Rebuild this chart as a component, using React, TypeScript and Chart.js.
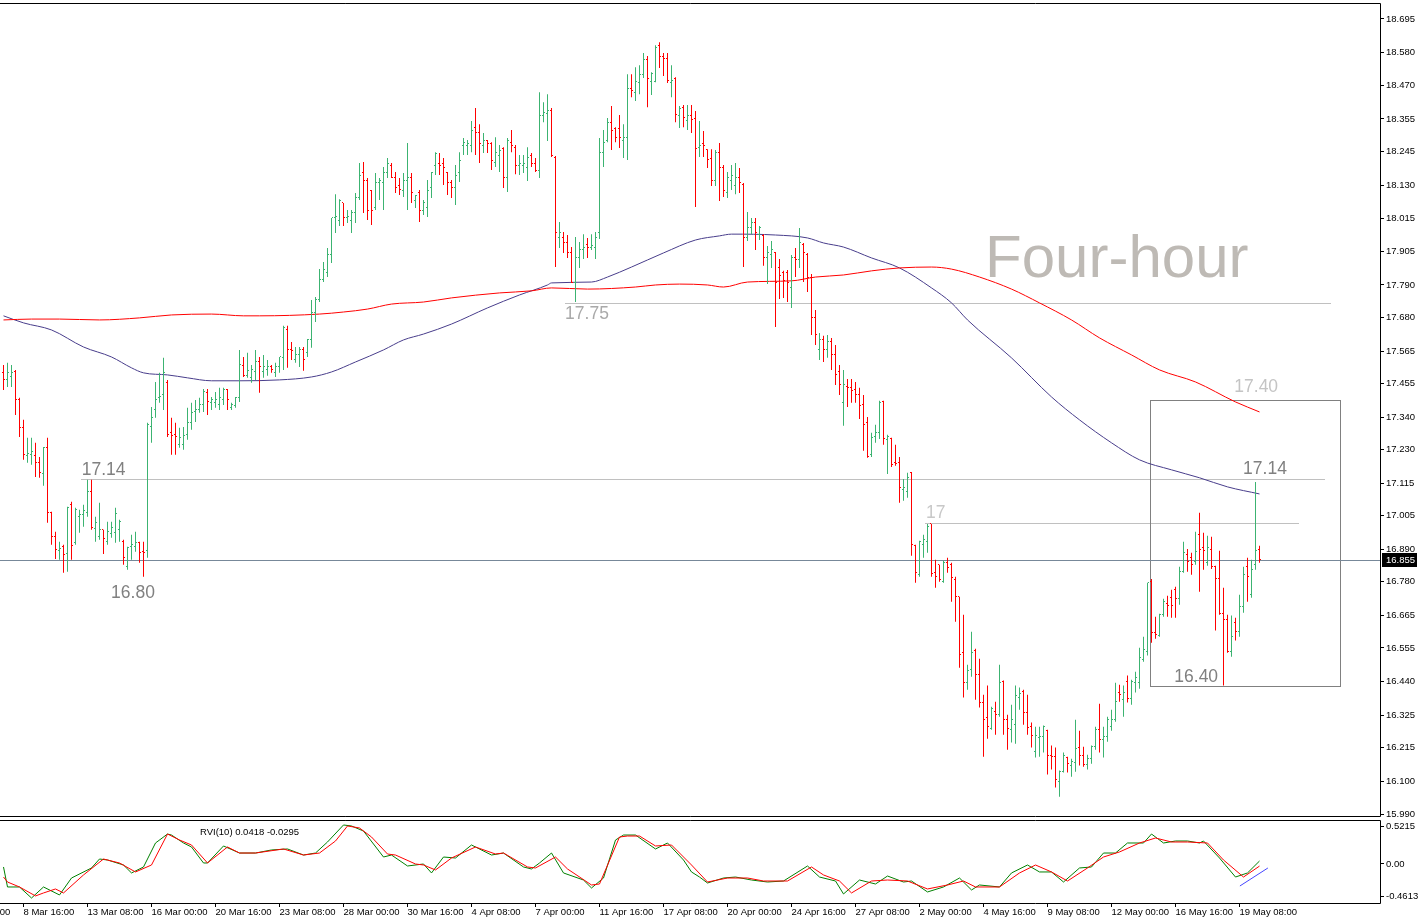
import React, { useEffect, useRef } from 'react';
import { Chart, registerables } from 'chart.js';

Chart.register(...registerables);

// ---------- price bars: [open, high, low, close] per 4-hour bar ----------
const ohlc: number[][] = [
  [17.491,17.518,17.433,17.470],[17.467,17.525,17.443,17.491],[17.477,17.518,17.443,17.491],[17.494,17.501,17.348,17.399],[17.399,17.406,17.273,17.304],
  [17.304,17.331,17.195,17.212],[17.209,17.270,17.185,17.215],[17.212,17.270,17.178,17.222],[17.209,17.253,17.137,17.185],[17.185,17.205,17.134,17.151],
  [17.147,17.239,17.107,17.236],[17.236,17.270,16.981,17.015],[17.015,17.018,16.906,16.933],[16.933,16.950,16.858,16.889],[16.886,16.916,16.855,16.892],
  [16.899,16.906,16.811,16.872],[16.875,17.035,16.814,17.032],[17.042,17.052,16.855,16.903],[16.913,17.032,16.906,17.025],[17.001,17.025,16.947,17.008],
  [17.008,17.042,16.967,17.022],[17.015,17.127,17.001,17.086],[17.086,17.127,16.957,16.964],[16.960,17.001,16.916,16.981],[16.933,17.049,16.923,16.957],
  [16.957,16.957,16.875,16.926],[16.916,16.984,16.906,16.950],[16.943,16.984,16.930,16.964],[16.947,17.032,16.913,17.011],[16.957,16.991,16.916,16.984],
  [16.916,16.923,16.838,16.862],[16.831,16.899,16.821,16.896],[16.899,16.940,16.855,16.906],[16.899,16.950,16.882,16.913],[16.913,16.916,16.845,16.879],
  [16.882,16.916,16.797,16.879],[16.886,17.321,16.862,17.314],[17.307,17.375,17.253,17.338],[17.365,17.460,17.338,17.399],[17.406,17.491,17.389,17.409],
  [17.416,17.542,17.365,17.491],[17.457,17.467,17.273,17.280],[17.287,17.338,17.212,17.277],[17.280,17.321,17.212,17.273],[17.246,17.304,17.236,17.270],
  [17.246,17.307,17.229,17.277],[17.280,17.372,17.263,17.321],[17.321,17.389,17.297,17.355],[17.358,17.399,17.324,17.365],[17.365,17.406,17.355,17.385],
  [17.382,17.436,17.358,17.426],[17.423,17.436,17.348,17.392],[17.389,17.409,17.365,17.399],[17.389,17.426,17.372,17.399],[17.382,17.440,17.365,17.406],
  [17.399,17.440,17.382,17.433],[17.433,17.436,17.365,17.399],[17.372,17.389,17.365,17.382],[17.379,17.409,17.372,17.406],[17.406,17.569,17.392,17.518],
  [17.515,17.545,17.477,17.481],[17.481,17.559,17.474,17.498],[17.474,17.518,17.457,17.501],[17.494,17.569,17.467,17.528],[17.528,17.545,17.423,17.511],
  [17.494,17.552,17.474,17.511],[17.501,17.535,17.481,17.511],[17.511,17.518,17.491,17.501],[17.491,17.525,17.477,17.511],[17.511,17.545,17.491,17.545],
  [17.542,17.651,17.501,17.644],[17.640,17.651,17.508,17.569],[17.569,17.596,17.535,17.566],[17.535,17.579,17.525,17.555],[17.552,17.579,17.511,17.572],
  [17.569,17.579,17.498,17.538],[17.559,17.606,17.545,17.603],[17.603,17.739,17.576,17.695],[17.695,17.749,17.664,17.739],[17.739,17.844,17.732,17.807],
  [17.807,17.868,17.800,17.841],[17.834,17.916,17.817,17.892],[17.892,18.018,17.865,18.018],[18.018,18.099,17.967,18.024],[18.011,18.082,17.991,18.076],
  [18.069,18.069,17.991,18.018],[18.018,18.045,18.001,18.024],[18.011,18.045,17.967,18.035],[18.035,18.103,18.001,18.086],[18.086,18.205,18.079,18.164],
  [18.171,18.208,18.035,18.144],[18.147,18.154,18.011,18.045],[18.113,18.113,17.994,18.045],[18.052,18.171,18.045,18.137],[18.137,18.154,18.079,18.147],
  [18.140,18.191,18.045,18.174],[18.174,18.222,18.154,18.205],[18.198,18.205,18.154,18.157],[18.157,18.174,18.103,18.123],[18.130,18.154,18.096,18.116],
  [18.113,18.171,18.089,18.147],[18.147,18.273,18.045,18.157],[18.154,18.171,18.069,18.103],[18.079,18.096,18.052,18.093],[18.103,18.113,18.004,18.045],
  [18.045,18.079,18.028,18.069],[18.055,18.147,18.021,18.113],[18.120,18.174,18.086,18.174],[18.198,18.242,18.164,18.239],[18.205,18.239,18.164,18.198],
  [18.205,18.222,18.130,18.188],[18.171,18.174,18.096,18.137],[18.137,18.147,18.086,18.120],[18.120,18.198,18.062,18.164],[18.171,18.242,18.140,18.215],
  [18.266,18.290,18.232,18.276],[18.266,18.283,18.232,18.273],[18.266,18.348,18.242,18.317],[18.327,18.392,18.232,18.310],[18.310,18.337,18.205,18.273],
  [18.266,18.307,18.239,18.283],[18.283,18.283,18.239,18.273],[18.273,18.276,18.181,18.212],[18.208,18.293,18.191,18.242],[18.232,18.266,18.174,18.249],
  [18.256,18.259,18.120,18.154],[18.154,18.290,18.106,18.280],[18.276,18.317,18.242,18.266],[18.259,18.266,18.167,18.195],[18.195,18.232,18.164,18.205],
  [18.198,18.232,18.171,18.205],[18.188,18.259,18.144,18.225],[18.232,18.239,18.191,18.205],[18.205,18.222,18.174,18.181],[18.181,18.446,18.154,18.368],
  [18.368,18.412,18.344,18.378],[18.375,18.439,18.280,18.385],[18.385,18.392,18.225,18.229],[18.225,18.229,17.851,17.970],[17.950,18.004,17.916,17.970],
  [17.953,17.970,17.899,17.933],[17.933,17.960,17.882,17.899],[17.902,17.919,17.797,17.800],[17.797,17.953,17.732,17.882],[17.882,17.936,17.848,17.909],
  [17.909,17.963,17.878,17.919],[17.929,17.950,17.882,17.916],[17.916,17.963,17.909,17.923],[17.919,17.970,17.878,17.950],[17.970,18.290,17.946,18.242],
  [18.242,18.317,18.191,18.276],[18.280,18.358,18.276,18.344],[18.344,18.399,18.249,18.317],[18.324,18.327,18.276,18.293],[18.324,18.368,18.256,18.293],
  [18.283,18.337,18.222,18.293],[18.293,18.507,18.215,18.460],[18.460,18.507,18.429,18.453],[18.446,18.531,18.416,18.484],[18.480,18.538,18.439,18.507],
  [18.507,18.579,18.494,18.558],[18.558,18.569,18.395,18.494],[18.484,18.514,18.436,18.511],[18.484,18.606,18.480,18.599],[18.606,18.616,18.528,18.569],
  [18.569,18.579,18.501,18.562],[18.562,18.579,18.477,18.487],[18.480,18.538,18.429,18.487],[18.494,18.497,18.344,18.371],[18.368,18.399,18.324,18.392],
  [18.395,18.402,18.327,18.361],[18.351,18.402,18.317,18.368],[18.368,18.402,18.307,18.354],[18.358,18.382,18.055,18.256],[18.259,18.348,18.225,18.266],
  [18.273,18.314,18.225,18.263],[18.252,18.252,18.188,18.218],[18.222,18.252,18.127,18.144],[18.144,18.249,18.127,18.242],[18.242,18.273,18.076,18.188],
  [18.191,18.198,18.089,18.110],[18.103,18.174,18.086,18.154],[18.147,18.198,18.113,18.161],[18.130,18.205,18.099,18.154],[18.154,18.188,18.103,18.137],
  [18.133,18.137,17.851,17.953],[17.953,18.038,17.940,17.987],[17.984,18.018,17.963,18.001],[18.001,18.018,17.909,17.967],[17.963,17.991,17.943,17.984],
  [17.960,17.963,17.855,17.882],[17.882,17.923,17.793,17.902],[17.892,17.940,17.848,17.909],[17.899,17.902,17.647,17.800],[17.848,17.878,17.742,17.821],
  [17.831,17.838,17.746,17.804],[17.834,17.841,17.732,17.800],[17.783,17.892,17.712,17.885],[17.885,17.916,17.817,17.875],[17.875,17.984,17.848,17.933],
  [17.929,17.933,17.800,17.899],[17.892,17.899,17.766,17.814],[17.814,17.827,17.620,17.678],[17.678,17.705,17.586,17.620],[17.569,17.627,17.535,17.603],
  [17.603,17.617,17.528,17.569],[17.569,17.620,17.542,17.596],[17.596,17.610,17.501,17.552],[17.552,17.586,17.450,17.484],[17.494,17.518,17.416,17.450],
  [17.389,17.501,17.311,17.450],[17.443,17.470,17.375,17.440],[17.440,17.470,17.389,17.430],[17.433,17.460,17.389,17.416],[17.416,17.440,17.334,17.379],
  [17.382,17.416,17.226,17.314],[17.321,17.341,17.202,17.205],[17.212,17.287,17.205,17.270],[17.273,17.314,17.253,17.287],[17.287,17.396,17.266,17.389],
  [17.392,17.396,17.246,17.266],[17.263,17.280,17.147,17.273],[17.266,17.270,17.171,17.178],[17.185,17.246,17.175,17.181],[17.185,17.205,17.049,17.100],
  [17.093,17.130,17.056,17.100],[17.086,17.151,17.066,17.134],[17.151,17.154,16.869,16.906],[16.903,16.906,16.777,16.811],[16.804,16.920,16.797,16.916],
  [16.906,16.940,16.862,16.923],[16.916,16.977,16.879,16.967],[16.977,16.977,16.797,16.807],[16.811,16.855,16.760,16.797],[16.838,16.838,16.780,16.787],
  [16.780,16.852,16.777,16.845],[16.845,16.862,16.811,16.828],[16.838,16.845,16.712,16.794],[16.787,16.797,16.644,16.729],[16.729,16.729,16.488,16.532],
  [16.539,16.668,16.386,16.437],[16.437,16.498,16.413,16.478],[16.481,16.610,16.457,16.539],[16.545,16.552,16.379,16.464],[16.464,16.518,16.352,16.369],
  [16.369,16.396,16.185,16.311],[16.318,16.427,16.246,16.287],[16.280,16.355,16.277,16.348],[16.338,16.372,16.260,16.328],[16.328,16.498,16.321,16.437],
  [16.440,16.444,16.260,16.311],[16.311,16.328,16.209,16.280],[16.277,16.362,16.233,16.311],[16.294,16.427,16.229,16.393],[16.386,16.420,16.345,16.400],
  [16.406,16.413,16.294,16.335],[16.335,16.396,16.260,16.284],[16.287,16.301,16.216,16.257],[16.202,16.287,16.182,16.257],[16.250,16.287,16.185,16.253],
  [16.253,16.291,16.199,16.287],[16.273,16.277,16.124,16.189],[16.189,16.223,16.141,16.185],[16.185,16.216,16.080,16.107],[16.100,16.138,16.049,16.134],
  [16.134,16.199,16.131,16.189],[16.182,16.185,16.131,16.161],[16.155,16.178,16.117,16.168],[16.165,16.311,16.134,16.212],[16.216,16.273,16.155,16.189],
  [16.189,16.219,16.151,16.158],[16.158,16.192,16.141,16.178],[16.178,16.223,16.161,16.219],[16.219,16.287,16.209,16.277],[16.277,16.365,16.199,16.243],
  [16.243,16.287,16.182,16.253],[16.253,16.321,16.236,16.311],[16.287,16.345,16.273,16.311],[16.311,16.437,16.304,16.372],[16.403,16.430,16.372,16.396],
  [16.379,16.427,16.321,16.403],[16.440,16.461,16.369,16.382],[16.382,16.447,16.362,16.440],[16.437,16.474,16.403,16.454],[16.437,16.556,16.416,16.522],
  [16.515,16.593,16.508,16.549],[16.542,16.777,16.529,16.777],[16.780,16.790,16.573,16.607],[16.607,16.661,16.586,16.600],[16.597,16.671,16.593,16.668],
  [16.668,16.722,16.661,16.712],[16.705,16.733,16.661,16.699],[16.726,16.753,16.658,16.699],[16.753,16.763,16.658,16.722],[16.722,16.831,16.702,16.814],
  [16.814,16.916,16.811,16.879],[16.872,16.892,16.814,16.848],[16.862,16.879,16.804,16.838],[16.848,16.950,16.838,16.882],[16.940,17.015,16.746,16.889],
  [16.896,16.947,16.821,16.886],[16.845,16.937,16.835,16.896],[16.889,16.933,16.824,16.831],[16.831,16.835,16.614,16.790],[16.790,16.886,16.668,16.671],
  [16.671,16.760,16.427,16.651],[16.651,16.668,16.539,16.542],[16.542,16.665,16.525,16.593],[16.641,16.658,16.580,16.610],[16.610,16.736,16.593,16.695],
  [16.695,16.831,16.675,16.804],[16.831,16.862,16.712,16.797],[16.736,16.855,16.726,16.821],[16.838,17.120,16.821,16.886],[16.889,16.903,16.845,16.855],
];

// ---------- price axis ----------
const priceTicks = [18.695,18.580,18.470,18.355,18.245,18.130,18.015,17.905,17.790,17.680,17.565,17.455,17.340,17.230,17.115,17.005,16.890,16.780,16.665,16.555,16.440,16.325,16.215,16.100,15.990];
const priceMin = 15.9832;
const priceMax = 18.7494;
const lastPrice = 16.855;

// ---------- moving averages (bar index, value) ----------
const maBlueIdx = [0,5,12,20,27,32,35,41,46,52,59,69,77,82,88,95,100,105,112,121,129,136,137,147,151,157,165,173,179,182,193,201,205,210,217,224,232,237,241,252,262,269,277,284,292,299,306,314];
const maBlueVal = [17.685,17.661,17.637,17.579,17.545,17.508,17.491,17.484,17.474,17.464,17.464,17.467,17.477,17.494,17.528,17.569,17.603,17.623,17.657,17.712,17.756,17.790,17.797,17.800,17.817,17.851,17.899,17.943,17.957,17.963,17.960,17.950,17.933,17.919,17.882,17.848,17.780,17.729,17.671,17.542,17.409,17.331,17.253,17.195,17.161,17.134,17.103,17.079];
const maRedIdx = [0,7,14,24,34,42,52,60,64,79,85,91,97,105,112,124,132,137,146,158,163,169,176,180,186,197,203,210,217,224,232,237,244,252,259,267,274,282,289,298,308,314];
const maRedVal = [17.671,17.674,17.674,17.671,17.678,17.688,17.691,17.685,17.685,17.691,17.698,17.708,17.725,17.732,17.746,17.763,17.770,17.780,17.776,17.783,17.790,17.793,17.790,17.783,17.800,17.804,17.817,17.824,17.838,17.848,17.851,17.844,17.817,17.776,17.729,17.671,17.610,17.552,17.501,17.460,17.392,17.358];

// ---------- drawn objects (bar index / price anchors) ----------
const levelPrice = [17.130, 16.980, 17.729];
const levelFrom = [19.4, 230.4, 140.4];
const levelTo = [330.4, 323.9, 331.9];
const boxBars = [286.6, 334.2];
const boxPrices = [17.399, 16.426];
const noteText = ['17.14', '16.80', '17.75', '17', '17.40', '17.14', '16.40'];
const noteBar = [19.55, 26.9, 140.4, 230.6, 307.7, 309.9, 292.7];
const notePrice = [17.143, 16.725, 17.674, 16.997, 17.426, 17.147, 16.439];
const noteColor = ['#808080', '#808080', '#A9A9A9', '#C8C8C8', '#C4C4C4', '#808080', '#808080'];
const titleText = 'Four-hour';
const titleBar = 245.4;
const titlePrice = 17.817;

// ---------- RVI(10) ----------
const rviMainIdx = [0,1,4,7,10,14,17,22,24,26,30,32,35,38,41,42,45,47,50,51,55,59,63,67,71,75,78,81,85,87,90,95,97,101,105,107,110,113,117,122,125,130,132,134,137,140,145,147,150,153,155,158,163,166,170,172,174,176,180,183,187,191,195,201,204,208,210,214,218,221,225,227,231,235,239,242,244,249,252,256,259,262,265,269,272,275,278,281,285,287,290,293,296,299,300,304,308,311,314];
const rviMainVal = [-0.042,-0.323,-0.323,-0.478,-0.323,-0.435,-0.197,-0.056,0.070,0.056,-0.014,-0.126,-0.042,0.295,0.421,0.407,0.295,0.239,0.014,0.014,0.253,0.154,0.154,0.197,0.211,0.126,0.154,0.309,0.548,0.534,0.463,0.098,0.126,-0.028,0,-0.126,0.098,0.084,0.267,0.126,0.154,-0.042,-0.070,0.014,0.154,-0.126,-0.225,-0.337,-0.197,0.337,0.407,0.407,0.211,0.295,0.056,-0.112,-0.183,-0.267,-0.197,-0.183,-0.225,-0.253,-0.239,-0.028,-0.183,-0.239,-0.421,-0.225,-0.281,-0.169,-0.253,-0.239,-0.393,-0.323,-0.197,-0.365,-0.295,-0.323,-0.126,-0.014,-0.112,-0.112,-0.253,-0.056,-0.042,0.154,0.154,0.295,0.295,0.421,0.295,0.323,0.323,0.295,0.323,0.084,-0.183,-0.126,0.0418];
const rviSignalIdx = [0,1,4,8,10,13,15,20,25,29,33,37,41,44,47,51,56,59,63,70,75,79,83,86,89,92,96,98,103,105,108,112,118,123,125,131,133,138,141,147,149,154,156,159,163,167,172,176,181,186,190,196,202,205,209,212,217,221,226,231,236,240,243,249,254,258,262,266,271,275,279,284,288,292,296,301,305,310,314];
const rviSignalVal = [-0.183,-0.253,-0.323,-0.449,-0.407,-0.351,-0.407,-0.154,0.070,0.014,-0.112,-0.014,0.421,0.337,0.267,0.014,0.239,0.154,0.154,0.211,0.126,0.154,0.323,0.534,0.506,0.379,0.140,0.126,0,-0.014,-0.084,0.084,0.239,0.140,0.154,-0.042,-0.056,0.098,-0.070,-0.295,-0.281,0.379,0.393,0.393,0.253,0.267,-0.014,-0.253,-0.197,-0.197,-0.239,-0.239,-0.042,-0.154,-0.239,-0.407,-0.239,-0.225,-0.239,-0.351,-0.295,-0.239,-0.323,-0.323,-0.126,-0.014,-0.112,-0.239,-0.056,0.098,0.169,0.295,0.365,0.309,0.309,0.295,0.056,-0.183,-0.0295];
const rviTrendIdx = [309.1, 316.1];
const rviTrendVal = [-0.309, -0.056];
const rviTicks = [0.5215, 0, -0.4613];
const rviTickLabels = ['0.5215', '0.00', '-0.4613'];
const rviCaption = 'RVI(10) 0.0418 -0.0295';

// ---------- time axis ----------
const timeIdx = [-11,5,21,37,53,69,85,101,117,133,149,165,181,197,213,229,245,261,277,293,309];
const timeLabels = ['6 Mar 00:00','8 Mar 16:00','13 Mar 08:00','16 Mar 00:00','20 Mar 16:00','23 Mar 08:00','28 Mar 00:00','30 Mar 16:00','4 Apr 08:00','7 Apr 00:00','11 Apr 16:00','17 Apr 08:00','20 Apr 00:00','24 Apr 16:00','27 Apr 08:00','2 May 00:00','4 May 16:00','9 May 08:00','12 May 00:00','16 May 16:00','19 May 08:00'];

// ---------- styles ----------
const X_MIN = -0.875;
const X_MAX = 344.125;
const UP = '#3CB371';
const DOWN = '#FF0000';
const FONT = '"Liberation Sans", Arial, sans-serif';
const W = 1420;
const MAIN_H = 824;
const RVI_TOP = 818;
const RVI_H = 106;

Chart.defaults.font.family = FONT;

const isUp = (b: number[]) => b[3] >= b[0];

const mainDecor = {
  id: 'mainDecor',
  beforeDatasetsDraw(chart: any) {
    const { ctx, chartArea: a, scales } = chart;
    const x = scales.x, y = scales.y;
    ctx.save();
    ctx.beginPath();
    ctx.rect(a.left, a.top, a.right - a.left, a.bottom - a.top);
    ctx.clip();
    // title
    ctx.font = `60px ${FONT}`;
    ctx.fillStyle = '#BEBAB5';
    ctx.textAlign = 'left';
    ctx.textBaseline = 'alphabetic';
    ctx.fillText(titleText, x.getPixelForValue(titleBar), y.getPixelForValue(titlePrice));
    // level lines
    ctx.lineWidth = 1;
    ctx.strokeStyle = '#C0C0C0';
    levelPrice.forEach((p, k) => {
      const yy = Math.round(y.getPixelForValue(p)) + 0.5;
      ctx.beginPath();
      ctx.moveTo(Math.round(x.getPixelForValue(levelFrom[k])), yy);
      ctx.lineTo(Math.round(x.getPixelForValue(levelTo[k])), yy);
      ctx.stroke();
    });
    // rectangle
    ctx.strokeStyle = '#808080';
    const bx0 = Math.round(x.getPixelForValue(boxBars[0])) + 0.5;
    const bx1 = Math.round(x.getPixelForValue(boxBars[1])) + 0.5;
    const by0 = Math.round(y.getPixelForValue(boxPrices[0])) + 0.5;
    const by1 = Math.round(y.getPixelForValue(boxPrices[1])) + 0.5;
    ctx.strokeRect(bx0, by0, bx1 - bx0, by1 - by0);
    // notes
    ctx.font = `17.5px ${FONT}`;
    noteText.forEach((t, k) => {
      ctx.fillStyle = noteColor[k];
      ctx.fillText(t, x.getPixelForValue(noteBar[k]), y.getPixelForValue(notePrice[k]));
    });
    // bid line
    ctx.strokeStyle = '#778899';
    const ly = Math.round(y.getPixelForValue(lastPrice)) + 0.5;
    ctx.beginPath();
    ctx.moveTo(a.left, ly);
    ctx.lineTo(a.right, ly);
    ctx.stroke();
    ctx.restore();
  },
  afterDatasetsDraw(chart: any) {
    const { ctx, chartArea: a, scales } = chart;
    const x = scales.x, y = scales.y;
    ctx.save();
    ctx.beginPath();
    ctx.rect(a.left, a.top, a.right - a.left, a.bottom - a.top);
    ctx.clip();
    ohlc.forEach((b, i) => {
      const px = Math.floor(x.getPixelForValue(i));
      ctx.fillStyle = isUp(b) ? UP : DOWN;
      ctx.fillRect(px - 1, Math.floor(y.getPixelForValue(b[0])), 1, 1);
      ctx.fillRect(px + 1, Math.floor(y.getPixelForValue(b[3])), 1, 1);
    });
    ctx.restore();
  },
  afterDraw(chart: any) {
    const { ctx, chartArea: a, scales } = chart;
    const y = scales.y;
    ctx.save();
    ctx.strokeStyle = '#000';
    ctx.lineWidth = 1;
    ctx.beginPath();
    ctx.moveTo(0, a.top + 0.5);
    ctx.lineTo(a.right + 0.5, a.top + 0.5);
    ctx.lineTo(a.right + 0.5, a.bottom + 0.5);
    ctx.lineTo(0, a.bottom + 0.5);
    ctx.stroke();
    // last price tag
    const yc = y.getPixelForValue(lastPrice);
    ctx.fillStyle = '#000';
    ctx.fillRect(a.right + 2, Math.round(yc) - 7, 35, 14);
    ctx.fillStyle = '#fff';
    ctx.font = `9.5px ${FONT}`;
    ctx.textAlign = 'left';
    ctx.textBaseline = 'middle';
    ctx.fillText(lastPrice.toFixed(3), a.right + 6, Math.round(yc));
    ctx.restore();
  },
};

const rviDecor = {
  id: 'rviDecor',
  afterDraw(chart: any) {
    const { ctx, chartArea: a } = chart;
    ctx.save();
    ctx.strokeStyle = '#000';
    ctx.lineWidth = 1;
    ctx.beginPath();
    ctx.moveTo(0, a.top + 0.5);
    ctx.lineTo(a.right + 0.5, a.top + 0.5);
    ctx.lineTo(a.right + 0.5, a.bottom + 0.5);
    ctx.lineTo(0, a.bottom + 0.5);
    ctx.stroke();
    ctx.fillStyle = '#000';
    ctx.font = `9.5px ${FONT}`;
    ctx.textAlign = 'left';
    ctx.textBaseline = 'middle';
    ctx.fillText(rviCaption, a.left + 200, a.top + 12);
    ctx.restore();
  },
};

const axisGrid = { display: true, drawOnChartArea: false, drawTicks: true, tickLength: 4, color: '#000', offset: false };

export default function App() {
  const mainRef = useRef<HTMLCanvasElement>(null);
  const rviRef = useRef<HTMLCanvasElement>(null);

  useEffect(() => {
    const main = new Chart(mainRef.current as HTMLCanvasElement, {
      type: 'bar',
      data: {
        datasets: [
          {
            type: 'bar',
            data: ohlc.map((b, i) => ({ x: i, y: [b[2], b[1]] })) as any,
            backgroundColor: ohlc.map((b) => (isUp(b) ? UP : DOWN)),
            barThickness: 1,
            borderWidth: 0,
            inflateAmount: 0,
            grouped: false,
            order: 0,
          } as any,
          {
            type: 'line',
            data: maRedIdx.map((v, k) => ({ x: v, y: maRedVal[k] })),
            borderColor: '#FF0000',
            borderWidth: 1,
            pointRadius: 0,
            fill: false,
            cubicInterpolationMode: 'monotone',
            order: 1,
          } as any,
          {
            type: 'line',
            data: maBlueIdx.map((v, k) => ({ x: v, y: maBlueVal[k] })),
            borderColor: '#483D8B',
            borderWidth: 1,
            pointRadius: 0,
            fill: false,
            cubicInterpolationMode: 'monotone',
            order: 1,
          } as any,
        ],
      },
      options: {
        responsive: false,
        animation: false,
        events: [],
        layout: { padding: { top: 3, bottom: MAIN_H - 816, left: 0, right: 0 } },
        plugins: { legend: { display: false }, tooltip: { enabled: false } },
        scales: {
          x: { type: 'linear', display: false, min: X_MIN, max: X_MAX, offset: false },
          y: {
            type: 'linear',
            position: 'right',
            min: priceMin,
            max: priceMax,
            afterBuildTicks: (s: any) => { s.ticks = priceTicks.map((v) => ({ value: v })); },
            afterFit: (s: any) => { s.width = W - 1380; s.paddingTop = 0; s.paddingBottom = 0; },
            grid: axisGrid,
            border: { display: false },
            ticks: {
              autoSkip: false,
              padding: 2,
              color: '#000',
              font: { size: 9.5 },
              callback: (v: any) => Number(v).toFixed(3),
            },
          },
        },
      } as any,
      plugins: [mainDecor],
    });

    const rvi = new Chart(rviRef.current as HTMLCanvasElement, {
      type: 'line',
      data: {
        datasets: [
          {
            data: rviSignalIdx.map((v, k) => ({ x: v, y: rviSignalVal[k] })),
            borderColor: '#FF0000',
            borderWidth: 1,
            pointRadius: 0,
            fill: false,
          },
          {
            data: rviMainIdx.map((v, k) => ({ x: v, y: rviMainVal[k] })),
            borderColor: '#008000',
            borderWidth: 1,
            pointRadius: 0,
            fill: false,
          },
          {
            data: rviTrendIdx.map((v, k) => ({ x: v, y: rviTrendVal[k] })),
            borderColor: '#4646FF',
            borderWidth: 1,
            pointRadius: 0,
            fill: false,
          },
        ],
      },
      options: {
        responsive: false,
        animation: false,
        events: [],
        layout: { padding: { top: 2, bottom: 0, left: 0, right: 0 } },
        plugins: { legend: { display: false }, tooltip: { enabled: false } },
        scales: {
          x: {
            type: 'linear',
            min: X_MIN,
            max: X_MAX,
            offset: false,
            afterBuildTicks: (s: any) => { s.ticks = timeIdx.map((v) => ({ value: v })); },
            afterFit: (s: any) => { s.height = 21; s.paddingLeft = 0; s.paddingRight = 0; },
            grid: axisGrid,
            border: { display: false },
            ticks: {
              autoSkip: false,
              maxRotation: 0,
              minRotation: 0,
              align: 'start',
              padding: 0,
              color: '#000',
              font: { size: 9.5 },
              callback: (_v: any, i: number) => timeLabels[i],
            },
          },
          y: {
            type: 'linear',
            position: 'right',
            min: -0.548,
            max: 0.618,
            afterBuildTicks: (s: any) => { s.ticks = rviTicks.map((v) => ({ value: v })); },
            afterFit: (s: any) => { s.width = W - 1380; s.paddingTop = 0; s.paddingBottom = 0; },
            grid: axisGrid,
            border: { display: false },
            ticks: {
              autoSkip: false,
              padding: 2,
              color: '#000',
              font: { size: 9.5 },
              callback: (_v: any, i: number) => rviTickLabels[i],
            },
          },
        },
      } as any,
      plugins: [rviDecor],
    });

    return () => {
      main.destroy();
      rvi.destroy();
    };
  }, []);

  return (
    <div style={{ position: 'absolute', left: 0, top: 0, width: W, height: 924, background: '#fff', overflow: 'hidden' }}>
      <canvas ref={mainRef} width={W} height={MAIN_H} style={{ position: 'absolute', left: 0, top: 0, width: W, height: MAIN_H }} />
      <canvas ref={rviRef} width={W} height={RVI_H} style={{ position: 'absolute', left: 0, top: RVI_TOP, width: W, height: RVI_H }} />
    </div>
  );
}
